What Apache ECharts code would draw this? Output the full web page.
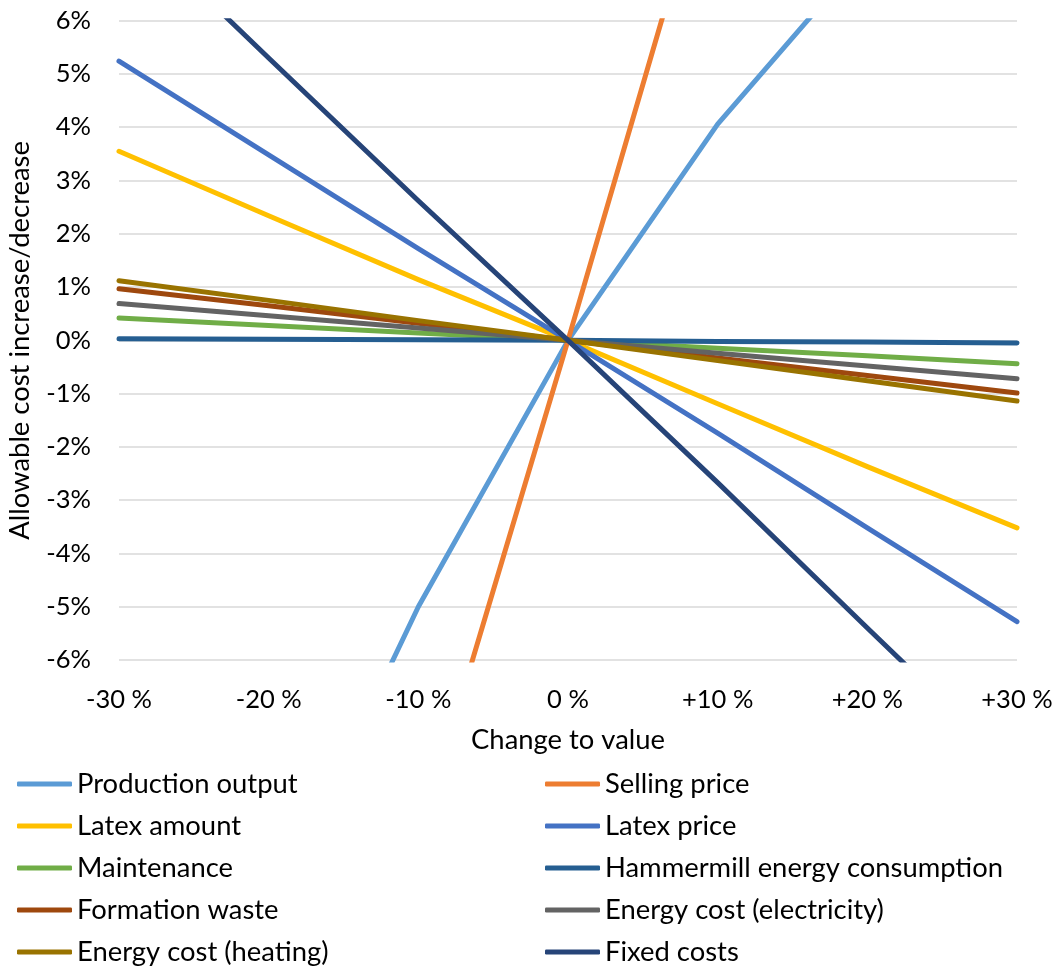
<!DOCTYPE html>
<html>
<head>
<meta charset="utf-8">
<title>Sensitivity of allowable cost</title>
<script src="https://cdn.jsdelivr.net/npm/echarts@6/dist/echarts.min.js"></script>
<style>
  html, body { margin: 0; padding: 0; background: #fff; }
  #chart { width: 1060px; height: 966px; }
</style>
</head>
<body>
<div id="chart"></div>
<script>
// Change applied to each input parameter
const categories = ['-30 %', '-20 %', '-10 %', '0 %', '+10 %', '+20 %', '+30 %'];

// Allowable cost increase/decrease (%) for each parameter change
const productionOutput  = [-19.3, -10.9, -5.0, 0, 4.06, 7.3, 10.3];
const sellingPrice      = [-28.5, -18.9, -9.4, 0, 9.6, 19.2, 28.8];
const latexAmount       = [3.55, 2.34, 1.14, 0, -1.19, -2.37, -3.52];
const latexPrice        = [5.24, 3.48, 1.72, 0, -1.74, -3.52, -5.28];
const maintenance       = [0.42, 0.28, 0.14, 0, -0.15, -0.29, -0.44];
const hammermill        = [0.03, 0.02, 0.01, 0, -0.02, -0.03, -0.05];
const formationWaste    = [0.97, 0.65, 0.32, 0, -0.33, -0.66, -0.99];
const energyElectricity = [0.69, 0.46, 0.23, 0, -0.24, -0.48, -0.72];
const energyHeating     = [1.12, 0.75, 0.37, 0, -0.38, -0.76, -1.14];
const fixedCosts        = [8.0, 5.3, 2.62, 0, -2.67, -5.4, -8.1];

// Y axis range and step (%)
const yMin = -6, yMax = 6, yStep = 1;

const seriesDefs = [
  { name: 'Production output', data: productionOutput, color: '#5B9BD5' },
  { name: 'Selling price', data: sellingPrice, color: '#ED7D31' },
  { name: 'Latex amount', data: latexAmount, color: '#FFC000' },
  { name: 'Latex price', data: latexPrice, color: '#4472C4' },
  { name: 'Maintenance', data: maintenance, color: '#70AD47' },
  { name: 'Hammermill energy consumption', data: hammermill, color: '#255E91' },
  { name: 'Formation waste', data: formationWaste, color: '#9E480E' },
  { name: 'Energy cost (electricity)', data: energyElectricity, color: '#636363' },
  { name: 'Energy cost (heating)', data: energyHeating, color: '#997300' },
  { name: 'Fixed costs', data: fixedCosts, color: '#264478' }
];

const FONT = 'Lato, "Open Sans", sans-serif';
const TEXT_COLOR = '#000000';
const TICK_SIZE = 25.5;
const TITLE_SIZE = 27.4;

const legendBase = {
  orient: 'vertical',
  top: 769,
  height: 200,
  padding: 0,
  itemWidth: 55,
  itemHeight: 5,
  itemGap: 12,
  icon: 'roundRect',
  textStyle: { fontFamily: FONT, fontSize: TITLE_SIZE, color: TEXT_COLOR, lineHeight: 30 }
};

const chart = echarts.init(document.getElementById('chart'), null, { renderer: 'canvas' });

chart.setOption({
  animation: false,
  backgroundColor: '#ffffff',
  textStyle: { fontFamily: FONT },
  grid: { left: 119, right: 43, top: 20.7, bottom: 306, containLabel: false, outerBoundsMode: 'none' },
  legend: [
    Object.assign({}, legendBase, {
      left: 17,
      data: seriesDefs.filter((d, i) => i % 2 === 0).map(d => d.name)
    }),
    Object.assign({}, legendBase, {
      left: 545,
      data: seriesDefs.filter((d, i) => i % 2 === 1).map(d => d.name)
    })
  ],
  xAxis: {
    type: 'category',
    data: categories,
    boundaryGap: false,
    axisLine: { show: false },
    axisTick: { show: false },
    axisLabel: { fontFamily: FONT, fontSize: TICK_SIZE, color: TEXT_COLOR, margin: 27 },
    splitLine: { show: false },
    name: 'Change to value',
    nameLocation: 'middle',
    nameGap: 67,
    nameTextStyle: { fontFamily: FONT, fontSize: TITLE_SIZE, color: TEXT_COLOR }
  },
  yAxis: {
    type: 'value',
    min: yMin,
    max: yMax,
    interval: yStep,
    axisLine: { show: false },
    axisTick: { show: false },
    axisLabel: { fontFamily: FONT, fontSize: TICK_SIZE, color: TEXT_COLOR, margin: 28, formatter: '{value}%' },
    splitLine: { show: true, lineStyle: { color: '#D9D9D9', width: 1.5 } },
    name: 'Allowable cost increase/decrease',
    nameLocation: 'middle',
    nameGap: 85,
    nameTextStyle: { fontFamily: FONT, fontSize: TITLE_SIZE, color: TEXT_COLOR }
  },
  series: seriesDefs.map(d => ({
    name: d.name,
    type: 'line',
    data: d.data,
    symbol: 'none',
    smooth: false,
    clip: true,
    color: d.color,
    lineStyle: { width: 5, color: d.color, cap: 'round', join: 'round' },
    itemStyle: { color: d.color },
    emphasis: { disabled: true }
  }))
});
</script>
</body>
</html>
